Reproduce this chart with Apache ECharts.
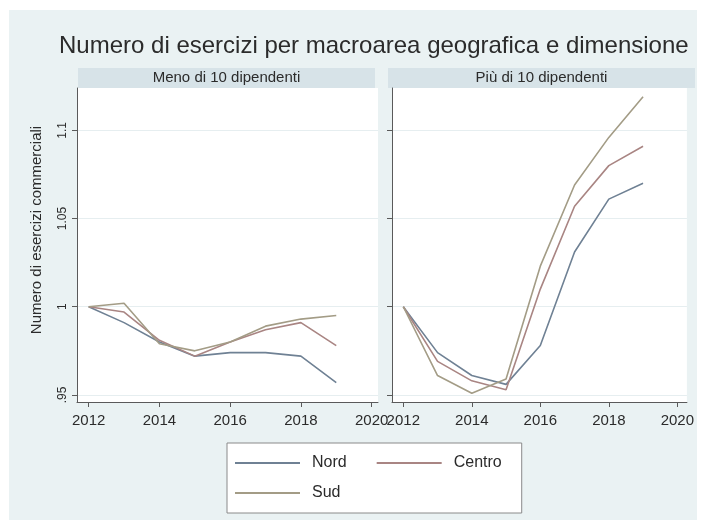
<!DOCTYPE html>
<html>
<head>
<meta charset="utf-8">
<script src="https://cdn.jsdelivr.net/npm/echarts@6/dist/echarts.min.js"></script>
<style>
  html, body { margin: 0; padding: 0; background: #ffffff; }
  #chart { position: absolute; left: 9px; top: 10px; width: 688px; height: 510px; }
</style>
</head>
<body>
<div id="chart"></div>
<script>
// Years on the x axis
const years = [2012, 2013, 2014, 2015, 2016, 2017, 2018, 2019];

// Index (2012 = 1) of shops, firms with fewer than 10 employees
const nordSmall   = [1.000, 0.991, 0.980, 0.972, 0.974, 0.974, 0.972, 0.957];
const centroSmall = [1.000, 0.997, 0.981, 0.972, 0.980, 0.987, 0.991, 0.978];
const sudSmall    = [1.000, 1.002, 0.979, 0.975, 0.980, 0.989, 0.993, 0.995];

// Index (2012 = 1) of shops, firms with more than 10 employees
const nordLarge   = [1.000, 0.974, 0.961, 0.956, 0.978, 1.031, 1.061, 1.070];
const centroLarge = [1.000, 0.969, 0.958, 0.953, 1.010, 1.057, 1.080, 1.091];
const sudLarge    = [1.000, 0.961, 0.951, 0.959, 1.023, 1.069, 1.096, 1.119];

// Axis ticks and labels
const xTicks = [2012, 2014, 2016, 2018, 2020];
const yTicks = [0.95, 1, 1.05, 1.1];

const areaNames = ['Nord', 'Centro', 'Sud'];
const panelTitles = ['Meno di 10 dipendenti', 'Più di 10 dipendenti'];
const mainTitle = 'Numero di esercizi per macroarea geografica e dimensione';
const yTitle = 'Numero di esercizi commerciali';

const colors = { Nord: '#6f8194', Centro: '#a98583', Sud: '#a39c86' };
const textColor = '#2b2b2b';
const axisColor = '#5a5a5a';
const font = 'Liberation Sans, Arial, sans-serif';

const pair = (vals) => years.map((y, i) => [y, vals[i]]);
const yFmt = (v) => {
  const s = String(+v.toFixed(2));
  return s.startsWith('0') ? s.slice(1) : s;
};

const grids = [
  { left: 68, top: 78, width: 301, height: 314 },
  { left: 383, top: 78, width: 305, height: 314 }
];

function xAxisFor(idx) {
  return {
    type: 'value', gridIndex: idx,
    min: 2011.67, max: idx === 0 ? 2020.18 : 2020.28,
    axisLine: { show: true, lineStyle: { color: axisColor, width: 1 } },
    axisTick: { show: true, length: 5, customValues: xTicks, lineStyle: { color: axisColor } },
    axisLabel: { customValues: xTicks, margin: 11, color: textColor, fontFamily: font, fontSize: 15,
                 formatter: (v) => String(Math.round(v)) },
    splitLine: { show: false }
  };
}

function yAxisFor(idx) {
  return {
    type: 'value', gridIndex: idx,
    min: 0.946, max: 1.124,
    name: idx === 0 ? yTitle : '',
    nameLocation: 'middle', nameGap: 33, nameRotate: 90,
    nameTextStyle: { color: textColor, fontFamily: font, fontSize: 15, padding: [0, 0, 0, 30] },
    axisLine: { show: true, lineStyle: { color: axisColor, width: 1 } },
    axisTick: { show: true, length: 5, customValues: yTicks, lineStyle: { color: axisColor } },
    axisLabel: { show: idx === 0, customValues: yTicks, rotate: 90, margin: 8, color: textColor,
                 fontFamily: font, fontSize: 12, formatter: yFmt },
    splitLine: { show: true, lineStyle: { color: '#e6eef0', width: 1 } }
  };
}

const panelData = [
  { Nord: nordSmall, Centro: centroSmall, Sud: sudSmall },
  { Nord: nordLarge, Centro: centroLarge, Sud: sudLarge }
];

const series = [];
panelData.forEach((p, idx) => {
  areaNames.forEach((name) => {
    series.push({
      name, type: 'line', xAxisIndex: idx, yAxisIndex: idx,
      data: pair(p[name]), symbol: 'none', silent: true,
      lineStyle: { color: colors[name], width: 1.6 },
      itemStyle: { color: colors[name] }
    });
  });
});

// Panel header strips above each plot
const headers = [
  { x: 69, w: 297 },
  { x: 379, w: 307 }
].map((h, i) => ({
  type: 'group', left: h.x, top: 58,
  children: [
    { type: 'rect', shape: { x: 0, y: 0, width: h.w, height: 20 }, style: { fill: '#d7e3e8' } },
    { type: 'text', x: h.w / 2, y: 10,
      style: { text: panelTitles[i], fill: textColor, font: '15px ' + font, align: 'center', verticalAlign: 'middle' } }
  ]
}));

const chart = echarts.init(document.getElementById('chart'), null, { renderer: 'canvas' });
chart.setOption({
  backgroundColor: '#eaf2f3',
  animation: false,
  title: {
    text: mainTitle, left: 45, top: 19,
    textStyle: { color: textColor, fontFamily: font, fontSize: 24, fontWeight: 'normal' }
  },
  grid: grids.map((g) => Object.assign({ show: true, backgroundColor: '#ffffff', borderWidth: 0 }, g)),
  xAxis: [xAxisFor(0), xAxisFor(1)],
  yAxis: [yAxisFor(0), yAxisFor(1)],
  legend: {
    data: areaNames, left: 218, top: 433, width: 292, orient: 'horizontal',
    backgroundColor: '#ffffff', borderColor: '#8a8a8a', borderWidth: 1, borderRadius: 0,
    padding: [12, 4, 12, 8], itemGap: 14, itemWidth: 65, itemHeight: 2, icon: 'rect',
    textStyle: { color: textColor, fontFamily: font, fontSize: 16, lineHeight: 14, padding: [0, 16, 0, 7] }
  },
  graphic: headers,
  series
});
</script>
</body>
</html>
